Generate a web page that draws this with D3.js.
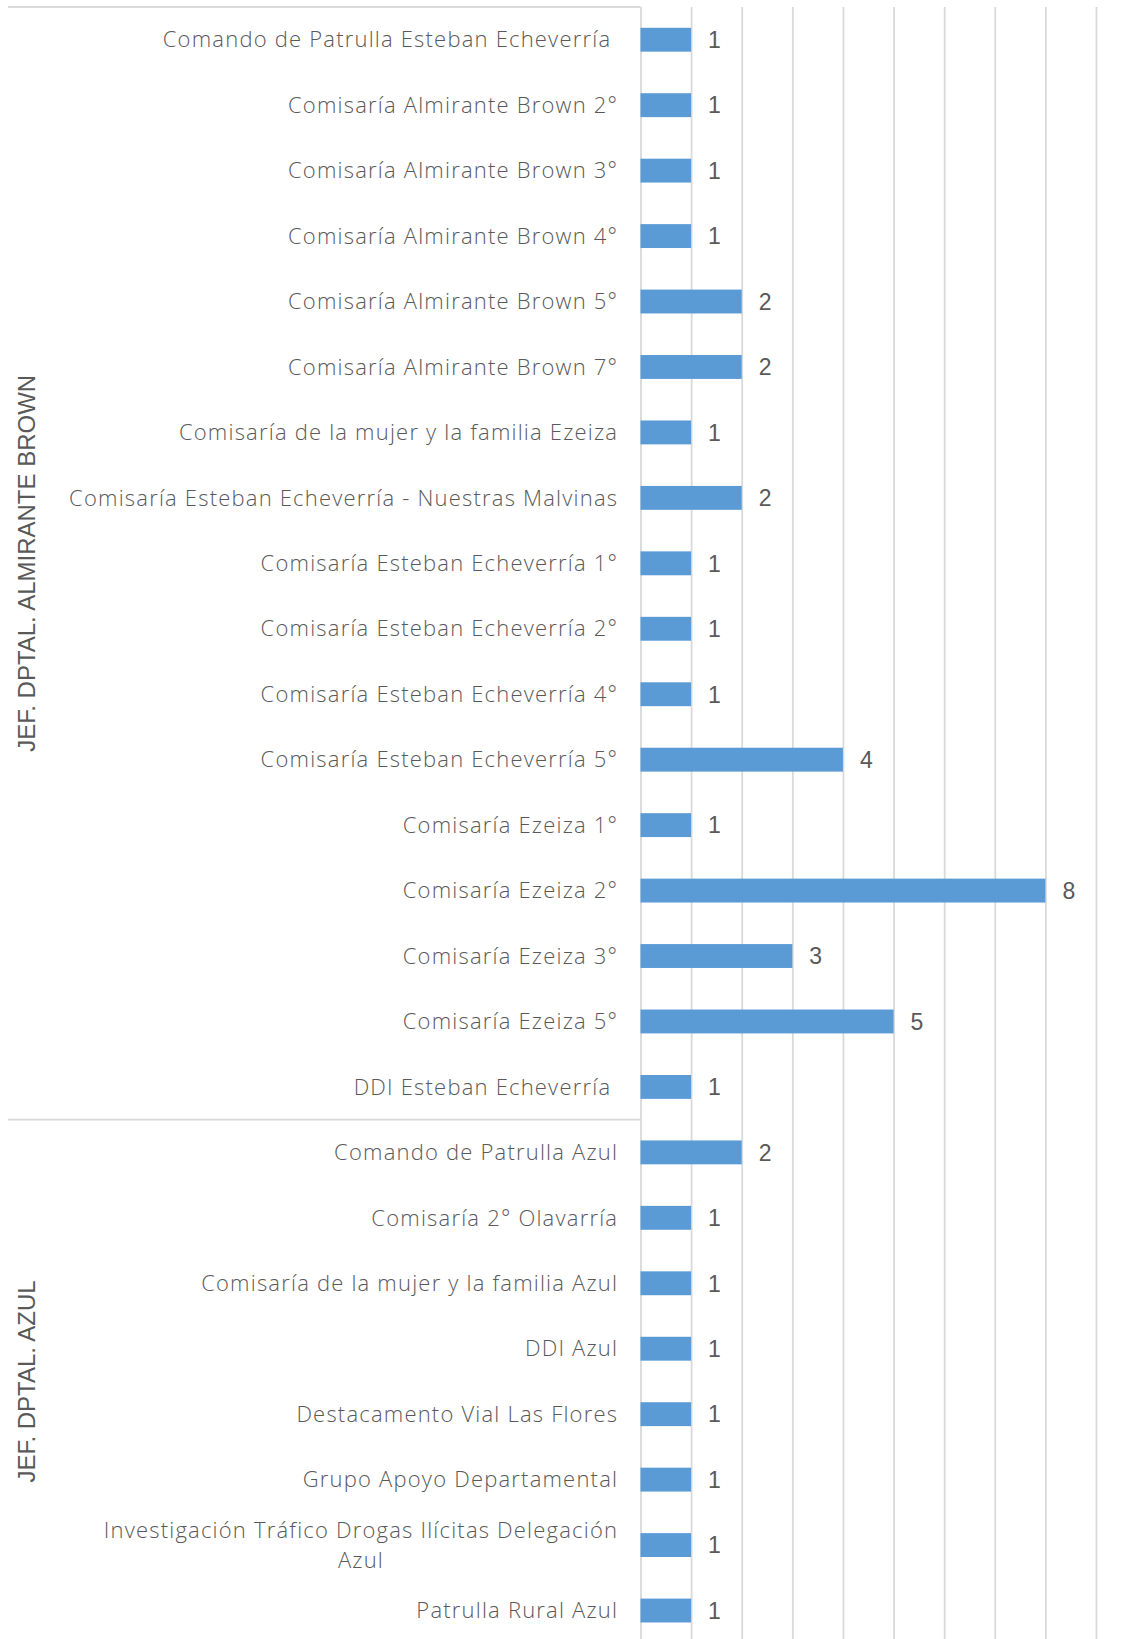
<!DOCTYPE html>
<html>
<head>
<meta charset="utf-8">
<script src="https://cdn.jsdelivr.net/npm/d3@7"></script>
<style>
  html, body { margin: 0; padding: 0; background: #fff; }
  svg { display: block; }
  text { white-space: pre; }
</style>
</head>
<body>
<svg id="chart" width="1138" height="1639"></svg>
<script>
const groups = ["JEF. DPTAL. ALMIRANTE BROWN", "JEF. DPTAL. AZUL"];
const groupSizes = [17, 8];
const categories = [
  "Comando de Patrulla Esteban Echeverría ",
  "Comisaría Almirante Brown 2°",
  "Comisaría Almirante Brown 3°",
  "Comisaría Almirante Brown 4°",
  "Comisaría Almirante Brown 5°",
  "Comisaría Almirante Brown 7°",
  "Comisaría de la mujer y la familia Ezeiza",
  "Comisaría Esteban Echeverría - Nuestras Malvinas",
  "Comisaría Esteban Echeverría 1°",
  "Comisaría Esteban Echeverría 2°",
  "Comisaría Esteban Echeverría 4°",
  "Comisaría Esteban Echeverría 5°",
  "Comisaría Ezeiza 1°",
  "Comisaría Ezeiza 2°",
  "Comisaría Ezeiza 3°",
  "Comisaría Ezeiza 5°",
  "DDI Esteban Echeverría ",
  "Comando de Patrulla Azul",
  "Comisaría 2° Olavarría",
  "Comisaría de la mujer y la familia Azul",
  "DDI Azul",
  "Destacamento Vial Las Flores",
  "Grupo Apoyo Departamental",
  "Investigación Tráfico Drogas Ilícitas Delegación Azul",
  "Patrulla Rural Azul"
];
const values = [1,1,1,1,2,2,1,2,1,1,1,4,1,8,3,5,1,2,1,1,1,1,1,1,1];
const xTicks = [0,1,2,3,4,5,6,7,8,9];

(function () {
const svg = d3.select("#chart");
const topY = 7, step = 65.45;
const plotLeft = 640.5, plotRight = 1096;
const bottomY = topY + step * categories.length;

const x = d3.scaleLinear().domain([0, 9]).range([plotLeft, plotRight]);
const y = d3.scaleBand().domain(d3.range(categories.length))
  .range([topY, bottomY]).paddingInner(0.635).paddingOuter(0.3175);

const gridColor = "#D9D9D9";
const textColor = "#595959";

// gridlines
const grid = svg.append("g").attr("transform", `translate(0,${topY})`)
  .call(d3.axisTop(x).tickValues(xTicks).tickSize(-(bottomY - topY)).tickFormat(""));
grid.select(".domain").remove();
grid.selectAll(".tick line").attr("stroke", gridColor).attr("stroke-width", 1.8);

// group separators (top border + between groups)
let acc = 0;
const seps = [0];
groupSizes.forEach((n, i) => { acc += n; if (i < groupSizes.length - 1) seps.push(acc); });
svg.append("g").selectAll("line").data(seps).join("line")
  .attr("x1", 8).attr("x2", plotLeft)
  .attr("y1", d => topY + step * d)
  .attr("y2", d => topY + step * d)
  .attr("stroke", gridColor).attr("stroke-width", 1.8);

// bars
svg.append("g").selectAll("rect").data(values).join("rect")
  .attr("x", x(0))
  .attr("y", (d, i) => y(i))
  .attr("width", d => x(d) - x(0))
  .attr("height", y.bandwidth())
  .attr("fill", "#5B9BD5");

// value labels
svg.append("g").selectAll("text").data(values).join("text")
  .attr("x", d => x(d) + 17)
  .attr("y", (d, i) => y(i) + y.bandwidth() / 2)
  .attr("dy", "0.36em")
  .attr("font-family", "Liberation Sans, Arial, sans-serif")
  .attr("font-size", 23)
  .attr("fill", textColor)
  .text(d => d);

// category labels (with wrapping, lines centered within block, block right-aligned)
const ls = 1.2;
const labelRight = 617 + ls;
const maxW = 562;
const labelFont = "'Open Sans', Roboto, sans-serif";
const labelG = svg.append("g")
  .attr("font-family", labelFont)
  .attr("font-weight", 300)
  .attr("font-size", 22)
  .attr("letter-spacing", ls)
  .attr("fill", textColor);

categories.forEach((c, i) => {
  const cy = y(i) + y.bandwidth() / 2;
  const t = labelG.append("text").attr("text-anchor", "end").attr("x", labelRight)
    .attr("y", cy).attr("dy", "0.35em").text(c);
  if (t.node().getComputedTextLength() > maxW) {
    t.remove();
    const words = c.trim().split(" ");
    const lines = [];
    let cur = [];
    const probe = labelG.append("text");
    words.forEach(w => {
      const trial = cur.concat([w]).join(" ");
      probe.text(trial);
      if (probe.node().getComputedTextLength() > maxW && cur.length) {
        lines.push(cur.join(" "));
        cur = [w];
      } else cur.push(w);
    });
    if (cur.length) lines.push(cur.join(" "));
    let widest = 0;
    lines.forEach(l => { probe.text(l); widest = Math.max(widest, probe.node().getComputedTextLength()); });
    probe.remove();
    const lh = 30;
    const cx = labelRight - widest / 2;
    const tt = labelG.append("text").attr("text-anchor", "middle");
    lines.forEach((l, k) => {
      tt.append("tspan").attr("x", cx)
        .attr("y", cy + (k - (lines.length - 1) / 2) * lh)
        .attr("dy", "0.35em").text(l);
    });
  }
});

// group labels (rotated)
let start = 0;
groups.forEach((g, i) => {
  const y0 = topY + step * start;
  const y1 = topY + step * (start + groupSizes[i]);
  const cy = (y0 + y1) / 2;
  svg.append("text")
    .attr("transform", `translate(27,${cy}) rotate(-90)`)
    .attr("text-anchor", "middle")
    .attr("dy", "0.35em")
    .attr("font-family", "Liberation Sans, Arial, sans-serif")
    .attr("font-size", 24)
    .attr("fill", textColor)
    .text(g);
  start += groupSizes[i];
});
})();
</script>
</body>
</html>
